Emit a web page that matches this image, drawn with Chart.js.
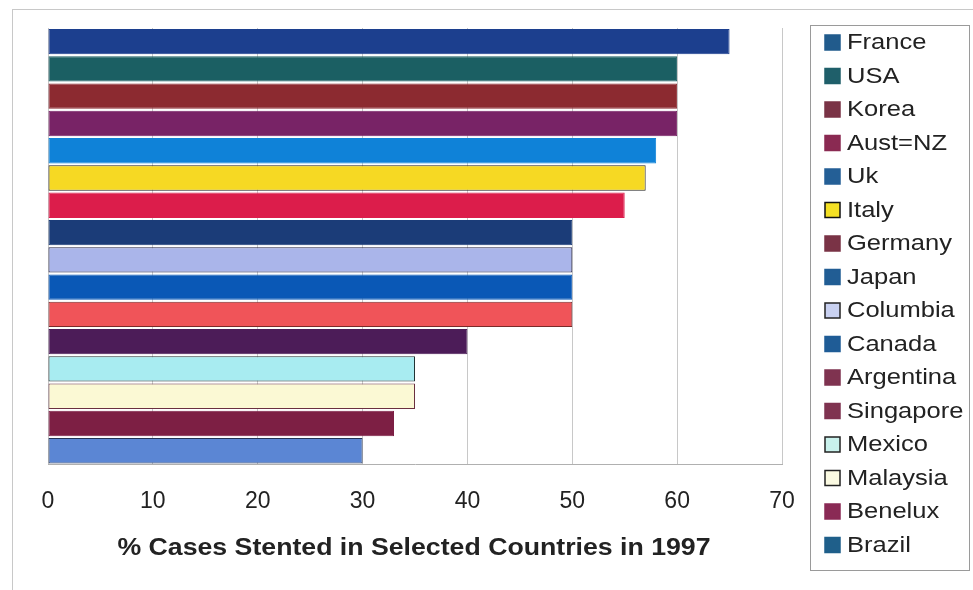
<!DOCTYPE html>
<html>
<head>
<meta charset="utf-8">
<script src="https://cdn.jsdelivr.net/npm/chart.js@4/dist/chart.umd.min.js"></script>
<style>
  html, body { margin: 0; padding: 0; background: #fff; }
  #frame { position: absolute; left: 12px; top: 9px; width: 1000px; height: 700px; border: 1px solid #c8c8c8; }
  #wrap { position: absolute; left: 0; top: 0; width: 973px; height: 590px; }
</style>
</head>
<body>
<div id="frame"></div>
<div id="wrap"><canvas id="c" width="973" height="590"></canvas></div>
<script>
// Share of PCI cases using stents, 1997
const countries = ["France", "USA", "Korea", "Aust=NZ", "Uk", "Italy", "Germany", "Japan",
  "Columbia", "Canada", "Argentina", "Singapore", "Mexico", "Malaysia", "Benelux", "Brazil"];
const percentStented = [65, 60, 60, 60, 58, 57, 55, 50, 50, 50, 50, 40, 35, 35, 33, 30];
const xTicks = [0, 10, 20, 30, 40, 50, 60, 70];
const axisTitle = "% Cases Stented in Selected Countries in 1997";

// bar fills and the (muted) legend swatch fills
const barColors = ["#1c3f8e", "#1b5f63", "#8c2a30", "#782366", "#0f82d8", "#f6d923", "#dc1d4b", "#1b3c78",
  "#aab5ea", "#0a58b6", "#f05459", "#4c1c58", "#a8ecf1", "#fbf9d4", "#7d1f44", "#5b86d4"];
const barBorders = ["#1c3f8e", "#1b5f63", "#8c2a30", "#782366", "#0f82d8", "#222222", "#dc1d4b", "#1b3c78",
  "#222244", "#0a58b6", "#7a2a2a", "#4c1c58", "#223333", "#6a3040", "#7d1f44", "#223355"];
const swatchColors = ["#215b8c", "#1f5f6a", "#7a3346", "#8a2a52", "#245f96", "#f4e024", "#7a3346", "#215d94",
  "#c9d1f1", "#1f5c96", "#7f3350", "#7f3350", "#c9f1ec", "#fbfae2", "#8a2a55", "#1f5f8a"];
const swatchBorders = ["#215b8c", "#1f5f6a", "#7a3346", "#8a2a52", "#245f96", "#111111", "#7a3346", "#215d94",
  "#222222", "#1f5c96", "#7f3350", "#7f3350", "#222222", "#222222", "#8a2a55", "#1f5f8a"];

// text drawn with a slightly widened face
function wideText(c, text, x, y, stretch) {
  c.save();
  c.translate(x, y);
  c.scale(stretch, 1);
  c.fillText(text, 0, 0);
  c.restore();
}

// axis caption plus boxed legend, one row per country
const captionAndLegend = {
  id: "captionAndLegend",
  afterDraw(chart) {
    const c = chart.ctx;
    const area = chart.chartArea;
    c.save();
    c.font = "bold 23px 'Liberation Sans', Arial, sans-serif";
    c.fillStyle = "#222";
    c.textAlign = "center";
    c.textBaseline = "middle";
    wideText(c, axisTitle, (area.left + area.right) / 2 - 1, 549, 1.16);

    const left = 810, top = 25, width = 159, height = 545;
    const rowStep = 33.5, firstRow = 42;
    c.strokeStyle = "#9a9a9a";
    c.lineWidth = 1;
    c.strokeRect(left + 0.5, top + 0.5, width, height);
    c.font = "22px 'Liberation Sans', Arial, sans-serif";
    c.textAlign = "left";
    countries.forEach((name, i) => {
      const y = firstRow + i * rowStep;
      c.fillStyle = swatchColors[i];
      c.fillRect(825, y - 7, 15, 15);
      c.strokeStyle = swatchBorders[i];
      c.lineWidth = 1.5;
      c.strokeRect(825, y - 7, 15, 15);
      c.fillStyle = "#222";
      wideText(c, name, 847, y + 1, 1.16);
    });
    c.restore();
  }
};

new Chart(document.getElementById("c"), {
  type: "bar",
  data: {
    labels: countries,
    datasets: [{
      label: "% Cases Stented",
      data: percentStented,
      backgroundColor: barColors,
      borderColor: barBorders,
      borderWidth: 1,
      borderSkipped: false,
      barPercentage: 0.93,
      categoryPercentage: 1.0
    }]
  },
  options: {
    indexAxis: "y",
    responsive: false,
    animation: false,
    devicePixelRatio: 1,
    layout: { padding: { left: 48, top: 28, right: 191, bottom: 52 } },
    scales: {
      x: {
        min: 0, max: 70,
        afterBuildTicks(axis) { axis.ticks = xTicks.map(v => ({ value: v })); },
        grid: { color: "#c8c8c8", lineWidth: 1, drawTicks: false },
        border: { display: true, color: "#b0b0b0" },
        ticks: { font: { family: "Liberation Sans, Arial", size: 23 }, color: "#222", padding: 23 }
      },
      y: { display: false, offset: true }
    },
    plugins: {
      legend: { display: false },
      tooltip: { enabled: false }
    }
  },
  plugins: [captionAndLegend]
});
</script>
</body>
</html>
